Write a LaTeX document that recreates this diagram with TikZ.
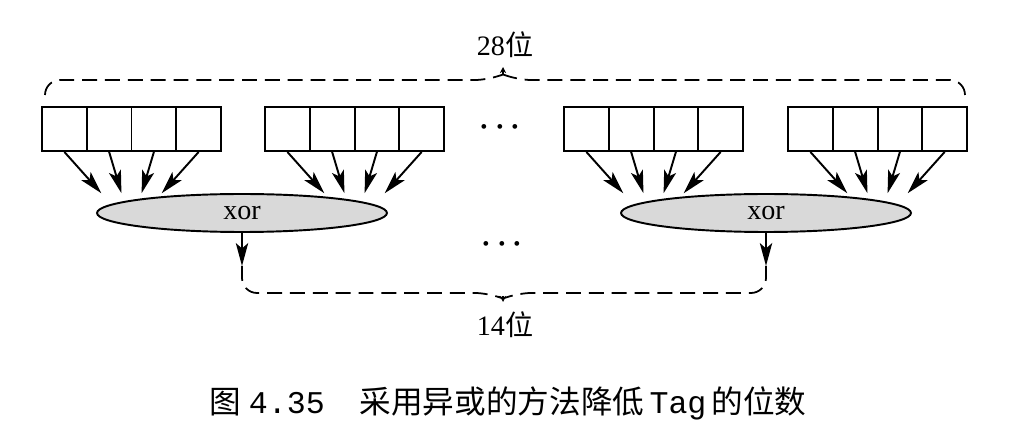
\documentclass[tikz,border=0pt]{standalone}
\usepackage{fontspec}
\usepackage{amsmath}
\setmainfont{Liberation Serif}
\newfontfamily\cjk{Noto Sans CJK SC}
\newfontfamily\capmono{Liberation Mono}
\usetikzlibrary{shapes.geometric,arrows.meta,calc}

\begin{document}
\begin{tikzpicture}[x=0.02cm,y=-0.02cm,
	cell/.style={draw,line width=1.1pt,minimum width=0.895cm,minimum height=0.88cm,inner sep=0pt},
	xorbox/.style={ellipse,draw,line width=1.1pt,fill=gray!30,minimum width=5.8cm,minimum height=0.76cm,inner sep=0pt,font=\fontsize{16}{19}\selectfont},
	bit/.style={-{Stealth[length=13pt,width=7pt,inset=3pt]},line width=1.1pt},
	brace/.style={dash pattern=on 8.5pt off 4.5pt,line width=1pt,rounded corners=0.3cm},
	tip/.style={-{Stealth[length=3.5pt,width=3.5pt]},line width=0.6pt},
	lbl/.style={font=\fontsize{16}{19}\selectfont}]
\useasboundingbox (0,0) rectangle (1024,435);
% four groups of cells, each group into one focus
\foreach \g/\l in {1/42,2/265,3/564,4/788}
{
	\coordinate (f\g) at (\l+89.5,227);
	\foreach \c in {1,...,4}
	{
		\node[cell] (\g-\c) at (\l+22.4+\c*44.75-44.75,129) {};
		\draw[bit] (\g-\c.south) -- ($(\g-\c.south)!0.55!(f\g)$);
	}
}
\node[xorbox] at (242,213) (x1) {xor};
\node[xorbox] at (766,213) (x2) {xor};
\coordinate (d1) at (242,266);
\coordinate (d2) at (766,266);
\draw[bit] (x1.south) -- (d1);
\draw[bit] (x2.south) -- (d2);
\node[lbl] at (503,127) (dots1) {$\boldsymbol{\cdots}$};
\node[lbl] at (505,244) (dots2) {$\boldsymbol{\cdots}$};
% top brace
\node[lbl] at (505,45) (n28) {28{\cjk 位}};
\coordinate (t1) at (503,67);
\draw[brace] (45,95) |- (490,80) [sharp corners] -- (497,77);
\draw[brace] (965,95) |- (516,80) [sharp corners] -- (509,77);
\draw[tip] (503,74) -- (t1);
% bottom brace
\node[lbl] at (505,325) (n14) {14{\cjk 位}};
\coordinate (t2) at (503,302);
\draw[brace] (d1) |- (490,293) [sharp corners] -- (497,296);
\draw[brace] (d2) |- (516,293) [sharp corners] -- (509,296);
\draw[tip] (503,296) -- (t2);
\node[font=\fontsize{18}{22}\selectfont] at (508,403) (cap) {{\cjk 图}\ {\capmono 4.35}\hspace{1.1em}{\cjk 采用异或的方法降低}\,{\capmono Tag}\,{\cjk 的位数}};
\end{tikzpicture}
\end{document}
